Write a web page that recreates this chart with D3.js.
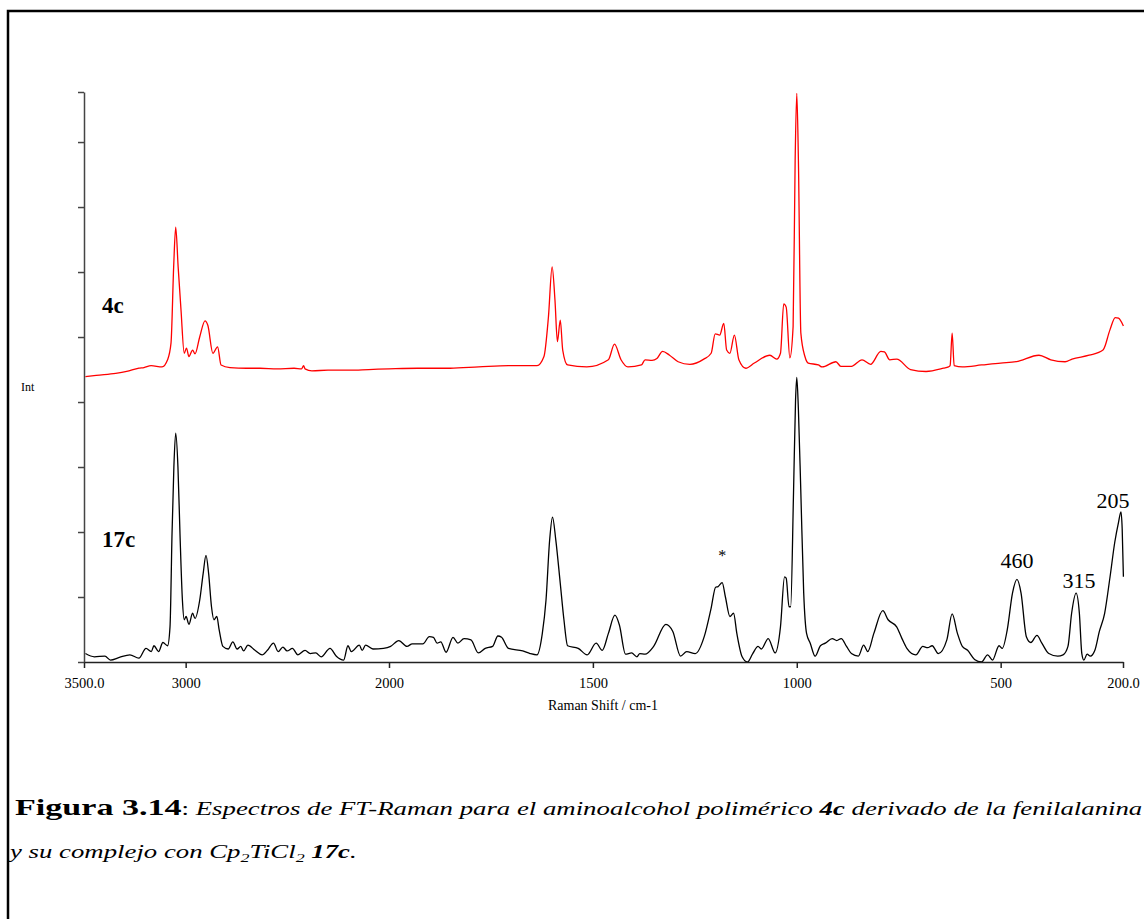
<!DOCTYPE html>
<html>
<head>
<meta charset="utf-8">
<script src="https://cdn.jsdelivr.net/npm/d3@7"></script>
<style>
  html, body { margin: 0; padding: 0; background: #fff; }
  svg { display: block; }
  text { font-family: "Liberation Serif", "Times New Roman", serif; fill: #000; }
</style>
</head>
<body>
<svg id="chart" width="1144" height="919"></svg>
<script>
// FT-Raman spectrum of the polymeric amino alcohol 4c (wavenumber cm-1, intensity in tick units)
const wn4c = [3493, 3440, 3344, 3290, 3230, 3205, 3170, 3116, 3089, 3072, 3059, 3049, 3037, 3023, 3007, 2996, 2984, 2966, 2954, 2931, 2905, 2891, 2866, 2843, 2826, 2782, 2700, 2634, 2550, 2467, 2430, 2420, 2413, 2379, 2300, 2192, 2100, 2000, 1930, 1850, 1780, 1707, 1637, 1620, 1609, 1600, 1593, 1587, 1580, 1574, 1562, 1515, 1462, 1447, 1431, 1414, 1381, 1372, 1355, 1343, 1329, 1312, 1291, 1262, 1228, 1210, 1200, 1189, 1179, 1172, 1164, 1153, 1142, 1125, 1104, 1066, 1049, 1040, 1032, 1026, 1017, 1009, 1004, 1000, 996, 990, 980, 972, 947, 938, 904, 892, 866, 840, 819, 794, 785, 772, 755, 721, 683, 640, 628, 624, 619, 614, 594, 547, 500, 462, 406, 377, 342, 325, 283, 249, 232, 219, 211, 199];
const int4c = [4.39, 4.41, 4.44, 4.47, 4.52, 4.53, 4.56, 4.54, 4.65, 4.91, 6.08, 6.69, 6.08, 5.42, 4.75, 4.83, 4.70, 4.80, 4.74, 5.00, 5.25, 5.18, 4.75, 4.85, 4.57, 4.53, 4.52, 4.52, 4.51, 4.52, 4.51, 4.56, 4.51, 4.48, 4.49, 4.49, 4.50, 4.51, 4.52, 4.52, 4.54, 4.56, 4.56, 4.70, 5.31, 6.08, 5.57, 4.93, 5.26, 4.80, 4.57, 4.54, 4.65, 4.89, 4.65, 4.54, 4.57, 4.65, 4.64, 4.67, 4.78, 4.72, 4.62, 4.58, 4.66, 4.75, 5.05, 5.03, 5.21, 4.80, 4.75, 5.03, 4.65, 4.52, 4.60, 4.72, 4.66, 4.75, 5.51, 5.46, 4.68, 5.16, 7.72, 8.75, 7.72, 5.06, 4.70, 4.60, 4.57, 4.54, 4.62, 4.55, 4.55, 4.65, 4.58, 4.78, 4.77, 4.65, 4.66, 4.50, 4.47, 4.52, 4.54, 4.56, 5.06, 4.56, 4.54, 4.57, 4.60, 4.62, 4.72, 4.65, 4.62, 4.66, 4.72, 4.80, 5.11, 5.30, 5.29, 5.17];

// FT-Raman spectrum of the Cp2TiCl2 complex 17c
const wn17c = [3493, 3449, 3397, 3370, 3326, 3274, 3230, 3195, 3169, 3156, 3133, 3112, 3089, 3077, 3067, 3058, 3049, 3038, 3028, 3016, 3007, 2998, 2984, 2966, 2954, 2931, 2914, 2900, 2887, 2873, 2861, 2847, 2835, 2817, 2791, 2768, 2747, 2729, 2715, 2694, 2659, 2624, 2598, 2568, 2545, 2522, 2501, 2475, 2448, 2413, 2387, 2360, 2334, 2290, 2259, 2223, 2202, 2185, 2146, 2132, 2115, 2079, 2027, 1996, 1976, 1956, 1943, 1917, 1901, 1891, 1882, 1873, 1860, 1843, 1831, 1816, 1799, 1781, 1764, 1746, 1733, 1724, 1707, 1672, 1654, 1637, 1624, 1615, 1606, 1599, 1591, 1580, 1571, 1562, 1536, 1514, 1492, 1477, 1462, 1446, 1435, 1420, 1405, 1392, 1385, 1372, 1351, 1321, 1304, 1285, 1270, 1249, 1227, 1210, 1199, 1193, 1183, 1175, 1164, 1155, 1147, 1134, 1121, 1108, 1095, 1087, 1070, 1053, 1040, 1030, 1026, 1019, 1015, 1008, 1003, 1000, 996, 990, 983, 976, 967, 955, 942, 930, 913, 902, 891, 878, 866, 849, 836, 826, 811, 789, 776, 755, 742, 730, 708, 691, 679, 668, 653, 632, 619, 606, 594, 581, 564, 547, 532, 520, 504, 496, 484, 471, 460, 450, 437, 426, 411, 399, 382, 360, 347, 335, 326, 315, 307, 301, 296, 288, 280, 269, 258, 245, 232, 220, 211, 205, 202, 199];
const int17c = [0.13, 0.08, 0.09, 0.03, 0.07, 0.11, 0.06, 0.21, 0.16, 0.25, 0.16, 0.30, 0.25, 0.54, 1.98, 3.00, 3.52, 3.00, 1.98, 0.95, 0.65, 0.70, 0.58, 0.75, 0.67, 0.95, 1.36, 1.64, 1.36, 0.85, 0.65, 0.70, 0.49, 0.24, 0.20, 0.31, 0.20, 0.24, 0.17, 0.26, 0.18, 0.11, 0.18, 0.29, 0.16, 0.23, 0.17, 0.21, 0.11, 0.18, 0.13, 0.14, 0.08, 0.21, 0.09, 0.03, 0.25, 0.16, 0.26, 0.18, 0.26, 0.20, 0.21, 0.24, 0.33, 0.24, 0.28, 0.28, 0.39, 0.38, 0.29, 0.31, 0.15, 0.38, 0.29, 0.36, 0.34, 0.14, 0.21, 0.24, 0.40, 0.38, 0.21, 0.17, 0.13, 0.11, 0.44, 0.95, 1.88, 2.23, 1.88, 1.21, 0.65, 0.25, 0.21, 0.11, 0.29, 0.18, 0.44, 0.72, 0.57, 0.12, 0.14, 0.08, 0.13, 0.12, 0.24, 0.58, 0.47, 0.09, 0.16, 0.13, 0.39, 0.83, 1.15, 1.16, 1.22, 1.00, 0.70, 0.75, 0.44, 0.08, 0.00, 0.13, 0.24, 0.20, 0.36, 0.14, 0.54, 1.31, 1.29, 0.85, 0.85, 2.60, 4.03, 4.38, 3.88, 2.60, 1.06, 0.44, 0.29, 0.09, 0.25, 0.29, 0.36, 0.33, 0.36, 0.24, 0.13, 0.09, 0.26, 0.16, 0.44, 0.79, 0.65, 0.54, 0.36, 0.21, 0.11, 0.24, 0.22, 0.25, 0.13, 0.34, 0.74, 0.44, 0.24, 0.18, 0.04, 0.00, 0.11, 0.03, 0.25, 0.21, 0.49, 1.06, 1.27, 1.06, 0.39, 0.30, 0.41, 0.29, 0.13, 0.09, 0.11, 0.24, 0.75, 1.06, 0.75, 0.13, 0.03, 0.12, 0.09, 0.18, 0.47, 0.75, 1.30, 1.85, 2.15, 2.31, 2.05, 1.31];

const seriesNames = ["4c", "17c"];
const seriesColors = ["#ff0000", "#000000"];

// Axis ticks
const xTickValues = [3500, 3000, 2000, 1500, 1000, 500, 200];
const xTickLabels = ["3500.0", "3000", "2000", "1500", "1000", "500", "200.0"];
const yTickValues = [0, 1, 2, 3, 4, 5, 6, 7, 8, 8.77];

// Band assignments marked on the 17c spectrum
const peakWn = [1183, 460, 315, 205];
const peakText = ["*", "460", "315", "205"];

const svg = d3.select("#chart");

// Outer frame of the figure
svg.append("path")
  .attr("d", "M8,919 V11 H1144")
  .attr("fill", "none")
  .attr("stroke", "#000")
  .attr("stroke-width", 2.5);

// Wavenumber axis is compressed above 2000 cm-1
const x = d3.scaleLinear().domain([3500, 2000, 200]).range([84, 389, 1123]);
const y = d3.scaleLinear().domain([0, 8.77]).range([662, 92]);

// Spectra
const line = d3.line()
  .x(d => x(d[0]))
  .y(d => y(d[1]))
  .curve(d3.curveMonotoneX);

const series = [
  d3.zip(wn4c, int4c),
  d3.zip(wn17c, int17c)
];

svg.selectAll("path.spectrum")
  .data(series)
  .join("path")
  .attr("class", "spectrum")
  .attr("d", line)
  .attr("fill", "none")
  .attr("stroke", (d, i) => seriesColors[i])
  .attr("stroke-width", 1.3)
  .attr("stroke-linejoin", "round");

// X axis
const xAxis = d3.axisBottom(x)
  .tickValues(xTickValues)
  .tickFormat((d, i) => xTickLabels[i])
  .tickSizeInner(6)
  .tickSizeOuter(0)
  .tickPadding(10);

const gx = svg.append("g")
  .attr("transform", `translate(0,${y(0)})`)
  .call(xAxis);
gx.select(".domain").attr("stroke", "#222").attr("stroke-width", 1.5);
gx.selectAll(".tick line").attr("stroke", "#222").attr("stroke-width", 1.5);
gx.selectAll(".tick text")
  .attr("font-size", 14.5)
  .attr("fill", "#000");

// Y axis (no numeric labels)
const yAxis = d3.axisLeft(y)
  .tickValues(yTickValues)
  .tickFormat("")
  .tickSizeInner(6)
  .tickSizeOuter(0);

const gy = svg.append("g")
  .attr("transform", `translate(${x(3500)},0)`)
  .call(yAxis);
gy.select(".domain").attr("stroke", "#444").attr("stroke-width", 1.5);
gy.selectAll(".tick line").attr("stroke", "#444").attr("stroke-width", 1.5);

// Axis titles
svg.append("text")
  .attr("x", 603)
  .attr("y", 710)
  .attr("text-anchor", "middle")
  .attr("font-size", 14)
  .text("Raman Shift / cm-1");

svg.append("text")
  .attr("x", 21)
  .attr("y", 391)
  .attr("font-size", 12)
  .text("Int");

// Series names
const nameLevels = [5.37, 1.77];
svg.selectAll("text.series-name")
  .data(seriesNames)
  .join("text")
  .attr("class", "series-name")
  .attr("x", 102)
  .attr("y", (d, i) => y(nameLevels[i]))
  .attr("font-size", 23)
  .attr("font-weight", "bold")
  .text(d => d);

// Peak annotations on 17c
const bis = d3.bisector(d => -d).left;
function valueAt(w) {
  const i = Math.min(bis(wn17c, -w), wn17c.length - 1);
  return int17c[i];
}
const peakDy = [22, 11, 5, 4];
const peakDx = [0, 0, 3, -8];
svg.selectAll("text.peak")
  .data(peakWn)
  .join("text")
  .attr("class", "peak")
  .attr("x", (d, i) => x(d) + peakDx[i])
  .attr("y", (d, i) => y(valueAt(d)) - peakDy[i])
  .attr("text-anchor", "middle")
  .attr("font-size", (d, i) => i === 0 ? 16 : 22)
  .text((d, i) => peakText[i]);

// Caption (the page typesets it slightly widened)
const figScale = 1.42, capScale = 1.44;
const figLabel = svg.append("text")
  .attr("transform", `translate(15,815) scale(${figScale},1)`)
  .attr("font-size", 24)
  .attr("font-weight", "bold")
  .text("Figura 3.14");
const figWidth = figLabel.node().getComputedTextLength() * figScale;

const cap1 = svg.append("text")
  .attr("transform", `translate(${15 + figWidth},815) scale(${capScale},1)`)
  .attr("font-size", 18.6);
cap1.append("tspan").text(": ");
cap1.append("tspan").attr("font-style", "italic").text("Espectros de FT-Raman para el aminoalcohol polimérico ");
cap1.append("tspan").attr("font-style", "italic").attr("font-weight", "bold").text("4c");
cap1.append("tspan").attr("font-style", "italic").text(" derivado de la fenilalanina");

const cap2 = svg.append("text")
  .attr("transform", `translate(10,858) scale(${capScale},1)`)
  .attr("font-size", 18.6)
  .attr("font-style", "italic");
cap2.append("tspan").text("y su complejo con Cp");
cap2.append("tspan").attr("font-size", 12.5).attr("dy", 4).text("2");
cap2.append("tspan").attr("dy", -4).text("TiCl");
cap2.append("tspan").attr("font-size", 12.5).attr("dy", 4).text("2");
cap2.append("tspan").attr("dy", -4).text(" ");
cap2.append("tspan").attr("font-weight", "bold").text("17c");
cap2.append("tspan").text(".");
</script>
</body>
</html>
